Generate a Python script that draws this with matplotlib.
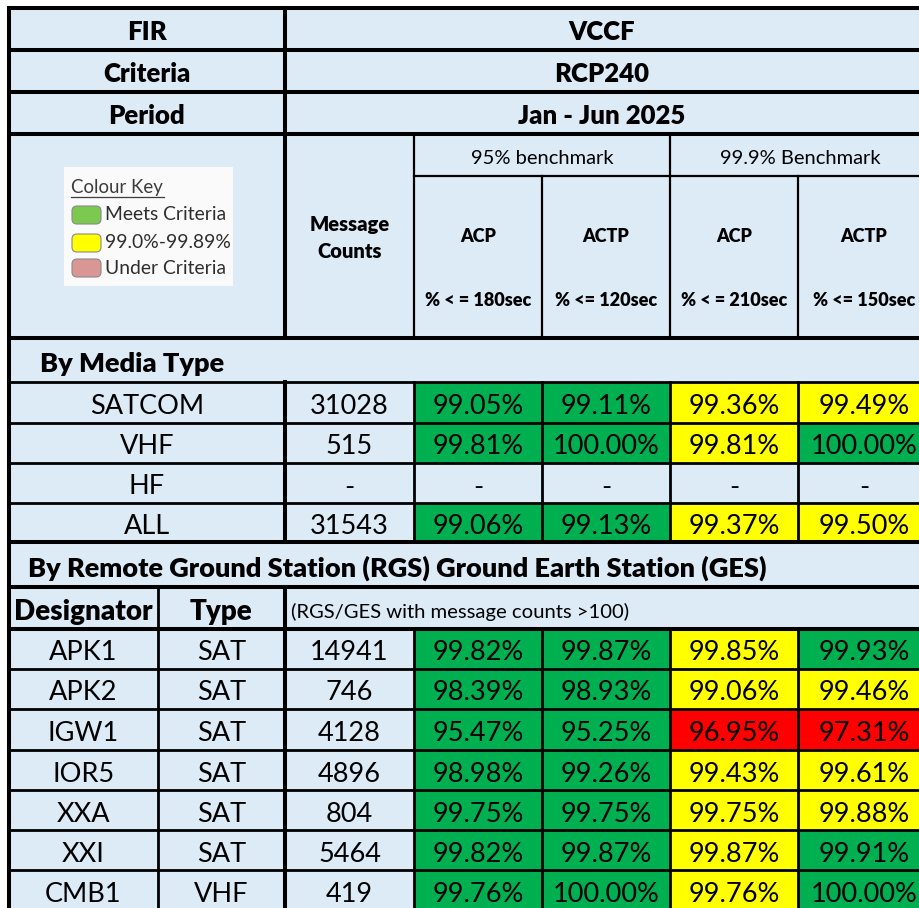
import matplotlib
matplotlib.use("Agg")
import matplotlib.pyplot as plt
from matplotlib.patches import Rectangle, FancyBboxPatch

# ---------------- data ----------------
fir = "VCCF"
criteria = "RCP240"
period = "Jan - Jun 2025"
benchmarks = ["95% benchmark", "99.9% Benchmark"]
metric_names = ["ACP", "ACTP", "ACP", "ACTP"]
metric_limits = ["% < = 180sec", "% <= 120sec", "% < = 210sec", "% <= 150sec"]
metric_thresholds = [95.0, 95.0, 99.9, 99.9]

media_types = ["SATCOM", "VHF", "HF", "ALL"]
media_counts = ["31028", "515", "-", "31543"]
media_acp95 = [99.05, 99.81, None, 99.06]
media_actp95 = [99.11, 100.00, None, 99.13]
media_acp999 = [99.36, 99.81, None, 99.37]
media_actp999 = [99.49, 100.00, None, 99.50]

stations = ["APK1", "APK2", "IGW1", "IOR5", "XXA", "XXI", "CMB1"]
station_types = ["SAT", "SAT", "SAT", "SAT", "SAT", "SAT", "VHF"]
station_counts = ["14941", "746", "4128", "4896", "804", "5464", "419"]
st_acp95 = [99.82, 98.39, 95.47, 98.98, 99.75, 99.82, 99.76]
st_actp95 = [99.87, 98.93, 95.25, 99.26, 99.75, 99.87, 100.00]
st_acp999 = [99.85, 99.06, 96.95, 99.43, 99.75, 99.87, 99.76]
st_actp999 = [99.93, 99.46, 97.31, 99.61, 99.88, 99.91, 100.00]

key_labels = ["Meets Criteria", "99.0%-99.89%", "Under Criteria"]

# ---------------- style ----------------
BG = "#DDEBF7"
GREEN = "#00B050"
YELLOW = "#FFFF00"
RED = "#FF0000"
FONT = ["Lato", "DejaVu Sans"]
plt.rcParams["font.family"] = FONT
BOLD = "heavy"

def cell_color(v, thr):
    if v is None:
        return BG
    if v >= thr:
        return GREEN
    if v >= 99.0:
        return YELLOW
    return RED

def fmt(v):
    return "-" if v is None else f"{v:.2f}%"

W, H = 920, 908
fig = plt.figure(figsize=(W / 100, H / 100), dpi=100)
ax = fig.add_axes([0, 0, 1, 1])
ax.set_xlim(0, W)
ax.set_ylim(H, 0)
ax.axis("off")

X = [9, 158, 285, 414, 542, 670, 798, 930]
Y_TOP = [8, 50, 92, 134]
Y_HDR_END = 338
Y_SUB = 176
Y_MEDIA_TITLE = (338, 382)
Y_MEDIA = [382, 423, 463, 503, 542]
Y_RGS_TITLE = (542, 587)
Y_DESIG = (587, 629)
Y_ST = [629, 669, 709, 750, 790, 830, 870, 910]

THICK = 2.9
MED = 2.0
THIN = 1.6
DATA_SIZE = 19.5
DY = 4  # text sits slightly below the geometric centre

# background
ax.add_patch(Rectangle((X[0], Y_TOP[0]), X[-1] - X[0], Y_ST[-1] - Y_TOP[0],
                       facecolor=BG, edgecolor="none", zorder=0))

def txt(x, y, s, size=DATA_SIZE, weight="normal", ha="center", color="black", **kw):
    ax.text(x, y, s, fontsize=size, fontweight=weight, ha=ha, va="center",
            color=color, zorder=5, **kw)

def hline(y, x0, x1, lw):
    ax.plot([x0, x1], [y, y], color="black", lw=lw, solid_capstyle="projecting", zorder=4)

def vline(x, y0, y1, lw):
    ax.plot([x, x], [y0, y1], color="black", lw=lw, solid_capstyle="projecting", zorder=4)

# ---- top header rows ----
top_labels = ["FIR", "Criteria", "Period"]
top_values = [fir, criteria, period]
for i in range(3):
    yc = (Y_TOP[i] + Y_TOP[i + 1]) / 2 + 3
    txt((X[0] + X[2]) / 2, yc, top_labels[i], size=18.5, weight=BOLD)
    txt(602, yc, top_values[i], size=18.5, weight=BOLD)

# ---- header block ----
txt((X[2] + X[3]) / 2, 224, "Message", size=14.5, weight=BOLD)
txt((X[2] + X[3]) / 2, 252, "Counts", size=14.5, weight=BOLD)
for b in range(2):
    xc = (X[3 + 2 * b] + X[5 + 2 * b]) / 2
    txt(xc, 159, benchmarks[b], size=14.5)
for j in range(4):
    xc = (X[3 + j] + X[4 + j]) / 2
    txt(xc, 236, metric_names[j], size=13, weight=BOLD)
    txt(xc, 300, metric_limits[j], size=13, weight=BOLD)

# colour key
ax.add_patch(Rectangle((64, 167), 169, 119, facecolor="#FAFAFA", edgecolor="none", zorder=1))
txt(71, 187, "Colour Key", size=13.4, ha="left", color="#3C3C3C")
ax.plot([71, 164], [196.5, 196.5], color="#3C3C3C", lw=0.9, zorder=5)
swatch_cols = ["#7CC94F", "#FFFF00", "#DA9694"]
swatch_y = [215, 243, 268]
for c, yy, lab in zip(swatch_cols, swatch_y, key_labels):
    ax.add_patch(FancyBboxPatch((72, yy - 9), 29, 18, boxstyle="round,pad=0,rounding_size=5",
                                facecolor=c, edgecolor="#8A8A8A", lw=0.8, zorder=2))
    txt(105, yy, lab, size=13.9, ha="left", color="#2E2E2E")

# ---- by media type ----
txt(40, sum(Y_MEDIA_TITLE) / 2 + DY, "By Media Type", size=19.5, weight=BOLD, ha="left")
media_vals = [media_acp95, media_actp95, media_acp999, media_actp999]
for i, name in enumerate(media_types):
    y0, y1 = Y_MEDIA[i], Y_MEDIA[i + 1]
    yc = (y0 + y1) / 2 + DY
    txt((X[0] + X[2]) / 2, yc, name)
    txt((X[2] + X[3]) / 2, yc, media_counts[i])
    for j in range(4):
        v = media_vals[j][i]
        ax.add_patch(Rectangle((X[3 + j], y0), X[4 + j] - X[3 + j], y1 - y0,
                               facecolor=cell_color(v, metric_thresholds[j]),
                               edgecolor="none", zorder=1))
        txt((X[3 + j] + X[4 + j]) / 2, yc, fmt(v))

# ---- by RGS / GES ----
txt(28, sum(Y_RGS_TITLE) / 2 + DY, "By Remote Ground Station (RGS) Ground Earth Station (GES)",
    size=19.5, weight=BOLD, ha="left")
yc = sum(Y_DESIG) / 2 + DY
txt((X[0] + X[1]) / 2, yc, "Designator", size=20, weight=BOLD)
txt((X[1] + X[2]) / 2, yc, "Type", size=20, weight=BOLD)
txt(291, yc, "(RGS/GES with message counts >100)", size=14.6, ha="left")

st_vals = [st_acp95, st_actp95, st_acp999, st_actp999]
for i, name in enumerate(stations):
    y0, y1 = Y_ST[i], Y_ST[i + 1]
    yc = (y0 + y1) / 2 + DY
    txt((X[0] + X[1]) / 2, yc, name)
    txt((X[1] + X[2]) / 2, yc, station_types[i])
    txt((X[2] + X[3]) / 2, yc, station_counts[i])
    for j in range(4):
        v = st_vals[j][i]
        ax.add_patch(Rectangle((X[3 + j], y0), X[4 + j] - X[3 + j], y1 - y0,
                               facecolor=cell_color(v, metric_thresholds[j]),
                               edgecolor="none", zorder=1))
        txt((X[3 + j] + X[4 + j]) / 2, yc, fmt(v))

# ---- grid lines ----
R = X[-1]
for y in Y_TOP + [Y_HDR_END, Y_MEDIA[-1], Y_RGS_TITLE[1], Y_DESIG[1]]:
    hline(y, X[0], R, THICK)
hline(Y_MEDIA_TITLE[1], X[0], R, MED)
for y in Y_MEDIA[1:-1]:
    hline(y, X[0], R, MED)
for y in Y_ST[1:-1]:
    hline(y, X[0], R, MED)
hline(Y_SUB, X[3], R, THIN)

vline(X[0], Y_TOP[0], Y_ST[-1], THICK)
vline(X[2], Y_TOP[0], Y_HDR_END, THICK)
vline(X[2], Y_MEDIA[0], Y_MEDIA[-1], THICK)
vline(X[2], Y_DESIG[0], Y_ST[-1], THICK)
vline(X[1], Y_DESIG[0], Y_ST[-1], MED)
vline(X[3], Y_TOP[3], Y_HDR_END, THIN)
vline(X[5], Y_TOP[3], Y_HDR_END, THIN)
vline(X[4], Y_SUB, Y_HDR_END, THIN)
vline(X[6], Y_SUB, Y_HDR_END, THIN)
for xx in X[3:7]:
    vline(xx, Y_MEDIA[0], Y_MEDIA[-1], MED)
    vline(xx, Y_ST[0], Y_ST[-1], MED)

fig.savefig("out.png", dpi=100)
